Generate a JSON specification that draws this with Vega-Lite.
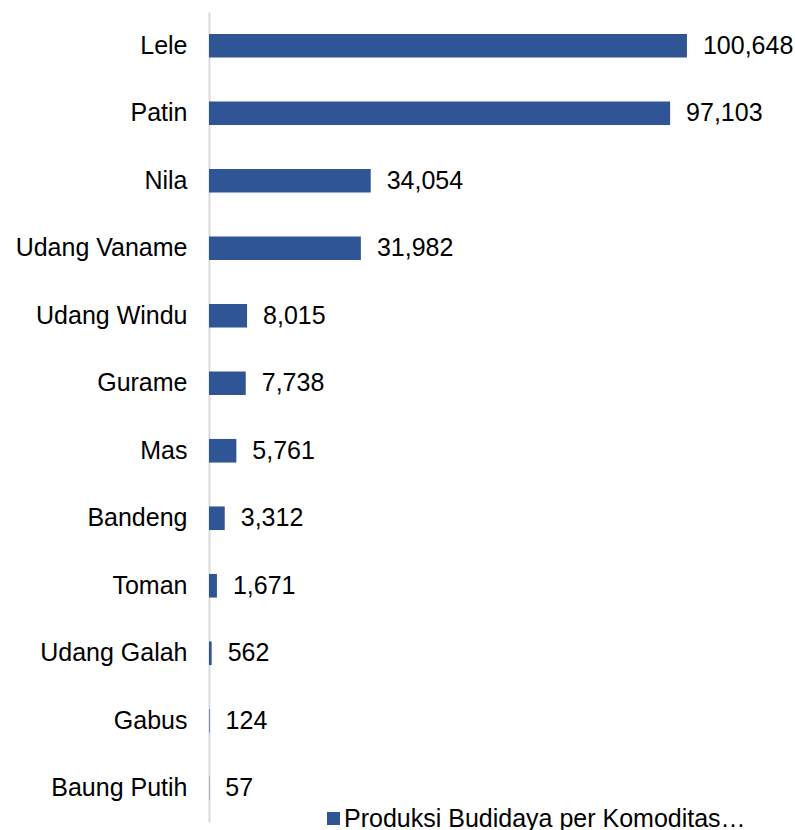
{
  "$schema": "https://vega.github.io/schema/vega-lite/v6.json",
  "autosize": {"type": "none"},
  "padding": {"left": 209, "top": 12, "right": 0, "bottom": 8},
  "width": 586,
  "height": 810,
  "background": "white",
  "config": {
    "view": {"stroke": null},
    "font": "Liberation Sans"
  },
  "data": {
    "values": [
      {"komoditas": "Lele", "nilai": 100648, "seri": "Produksi Budidaya per Komoditas…"},
      {"komoditas": "Patin", "nilai": 97103, "seri": "Produksi Budidaya per Komoditas…"},
      {"komoditas": "Nila", "nilai": 34054, "seri": "Produksi Budidaya per Komoditas…"},
      {"komoditas": "Udang Vaname", "nilai": 31982, "seri": "Produksi Budidaya per Komoditas…"},
      {"komoditas": "Udang Windu", "nilai": 8015, "seri": "Produksi Budidaya per Komoditas…"},
      {"komoditas": "Gurame", "nilai": 7738, "seri": "Produksi Budidaya per Komoditas…"},
      {"komoditas": "Mas", "nilai": 5761, "seri": "Produksi Budidaya per Komoditas…"},
      {"komoditas": "Bandeng", "nilai": 3312, "seri": "Produksi Budidaya per Komoditas…"},
      {"komoditas": "Toman", "nilai": 1671, "seri": "Produksi Budidaya per Komoditas…"},
      {"komoditas": "Udang Galah", "nilai": 562, "seri": "Produksi Budidaya per Komoditas…"},
      {"komoditas": "Gabus", "nilai": 124, "seri": "Produksi Budidaya per Komoditas…"},
      {"komoditas": "Baung Putih", "nilai": 57, "seri": "Produksi Budidaya per Komoditas…"}
    ]
  },
  "encoding": {
    "y": {
      "field": "komoditas",
      "type": "nominal",
      "sort": null,
      "scale": {"paddingInner": 0.65, "paddingOuter": 0.325},
      "axis": {
        "title": null,
        "ticks": false,
        "labelPadding": 22,
        "labelFontSize": 25,
        "labelColor": "#000000",
        "labelFont": "Liberation Sans",
        "domainColor": "#D9D9D9",
        "domainWidth": 2
      }
    },
    "x": {
      "field": "nilai",
      "type": "quantitative",
      "scale": {"domain": [0, 123400]},
      "axis": null
    }
  },
  "layer": [
    {
      "mark": {"type": "bar"},
      "encoding": {
        "color": {
          "field": "seri",
          "type": "nominal",
          "scale": {"range": ["#2F5597"]},
          "legend": {
            "title": null,
            "orient": "none",
            "legendX": 112,
            "legendY": 794,
            "symbolType": "square",
            "symbolSize": 169,
            "symbolOpacity": 1,
            "labelFontSize": 25,
            "labelFont": "Liberation Sans",
            "labelColor": "#000000",
            "labelOffset": -2,
            "labelLimit": 600
          }
        }
      }
    },
    {
      "mark": {"type": "text", "align": "left", "baseline": "middle", "dx": 16, "fontSize": 25, "font": "Liberation Sans", "color": "#000000"},
      "encoding": {
        "text": {"field": "nilai", "type": "quantitative", "format": ",.0f"}
      }
    }
  ]
}
